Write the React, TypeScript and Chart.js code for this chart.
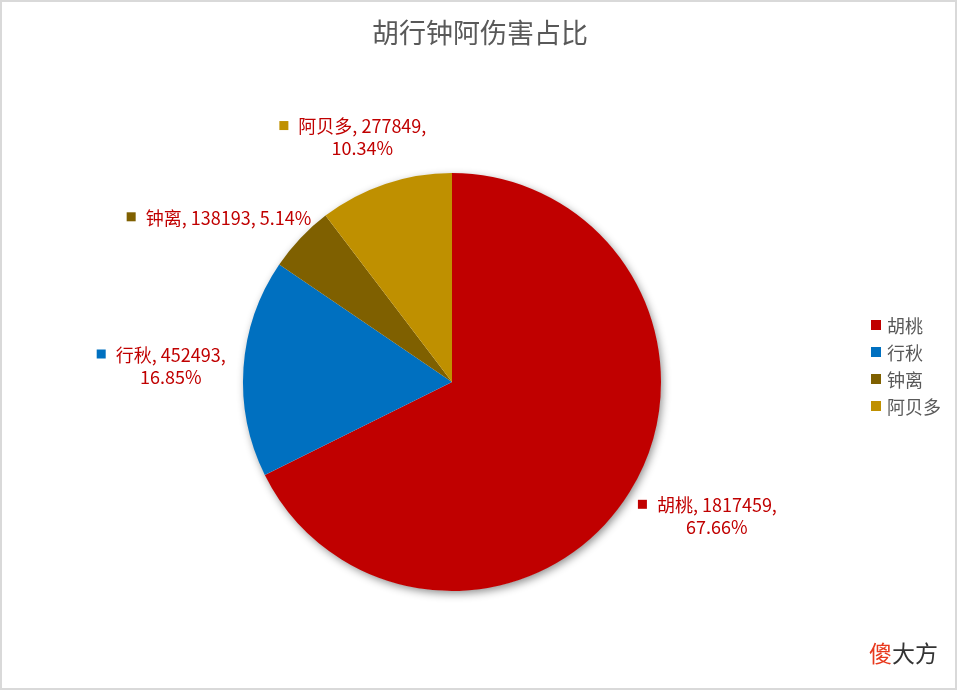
import React, { useEffect, useRef } from "react";
import { Chart, registerables } from "chart.js";

Chart.register(...registerables);

// ---- data ----
const categories = ["胡桃", "行秋", "钟离", "阿贝多"];
const damage = [1817459, 452493, 138193, 277849];
const sliceColors = ["#C00000", "#0070C0", "#7F6000", "#BF9000"];
const wrapAfterValue = [true, true, false, true];
const titleText = "胡行钟阿伤害占比";
const watermarkRed = "傻";
const watermarkDark = "大方";

// ---- style ----
const FONT = '"Noto Sans CJK SC", "Noto Sans", sans-serif';
const CANVAS_W = 953;
const CANVAS_H = 686;
const LABEL_GAPS = [22, 18, 20, 28];
const LABEL_FONT = 18;
const LINE_H = 22;
const MARK = 9;
const MARK_GAP = 10;
const LABEL_COLOR = "#C00000";
const GREY_TEXT = "#595959";

const total = damage.reduce((a, b) => a + b, 0);

const shadowPlugin = {
  id: "pieShadow",
  beforeDatasetsDraw(chart: any) {
    const arc = chart.getDatasetMeta(0).data[0];
    if (!arc) return;
    const { x, y, outerRadius } = arc.getProps(["x", "y", "outerRadius"], true);
    const ctx = chart.ctx;
    ctx.save();
    ctx.shadowColor = "rgba(0,0,0,0.45)";
    ctx.shadowBlur = 8;
    ctx.shadowOffsetX = 2;
    ctx.shadowOffsetY = 3;
    ctx.fillStyle = "#ffffff";
    ctx.beginPath();
    ctx.arc(x, y, outerRadius - 0.5, 0, Math.PI * 2);
    ctx.fill();
    ctx.restore();
  },
};

const decorPlugin = {
  id: "decor",
  afterDraw(chart: any) {
    const ctx = chart.ctx;
    const meta = chart.getDatasetMeta(0);
    ctx.save();

    // title
    ctx.font = `27px ${FONT}`;
    ctx.fillStyle = GREY_TEXT;
    ctx.textAlign = "center";
    ctx.textBaseline = "middle";
    ctx.fillText(titleText, 478, 31);

    // data labels
    ctx.font = `${LABEL_FONT}px ${FONT}`;
    meta.data.forEach((arc: any, i: number) => {
      const { x, y, startAngle, endAngle, outerRadius } = arc.getProps(
        ["x", "y", "startAngle", "endAngle", "outerRadius"],
        true
      );
      const mid = (startAngle + endAngle) / 2;
      const c = Math.cos(mid);
      const s = Math.sin(mid);
      const gap = LABEL_GAPS[i];
      const ax = x + (outerRadius + gap) * c;
      const ay = y + (outerRadius + gap) * s;
      const pct = ((damage[i] / total) * 100).toFixed(2) + "%";
      const lines = wrapAfterValue[i]
        ? [`${categories[i]}, ${damage[i]},`, pct]
        : [`${categories[i]}, ${damage[i]}, ${pct}`];
      const tw = Math.max(...lines.map((l) => ctx.measureText(l).width));
      const w = MARK + MARK_GAP + tw;
      const h = lines.length * LINE_H;
      const cx = ax + (c * w) / 2;
      const cy = ay + (s * h) / 2;
      const left = cx - w / 2;
      const top = cy - h / 2;
      ctx.fillStyle = sliceColors[i];
      ctx.fillRect(left, top + LINE_H / 2 - MARK / 2, MARK, MARK);
      ctx.fillStyle = LABEL_COLOR;
      ctx.textAlign = "center";
      ctx.textBaseline = "middle";
      const tcx = left + MARK + MARK_GAP + tw / 2;
      lines.forEach((l, k) => ctx.fillText(l, tcx, top + LINE_H * (k + 0.5) + 1));
    });

    // legend
    ctx.font = `18px ${FONT}`;
    ctx.textAlign = "left";
    ctx.textBaseline = "middle";
    categories.forEach((name, i) => {
      const cy = 323 + i * 27;
      ctx.fillStyle = sliceColors[i];
      ctx.fillRect(869, cy - 5, 10, 10);
      ctx.fillStyle = GREY_TEXT;
      ctx.fillText(name, 885, cy + 1);
    });

    // watermark
    ctx.font = `23px ${FONT}`;
    ctx.fillStyle = "#E8391D";
    ctx.fillText(watermarkRed, 867, 651);
    const wRed = ctx.measureText(watermarkRed).width;
    ctx.fillStyle = "#333333";
    ctx.fillText(watermarkDark, 867 + wRed, 651);

    ctx.restore();
  },
};

export default function App() {
  const ref = useRef<HTMLCanvasElement | null>(null);
  useEffect(() => {
    if (!ref.current) return;
    const chart = new Chart(ref.current, {
      type: "pie",
      data: {
        labels: categories,
        datasets: [
          {
            data: damage,
            backgroundColor: sliceColors,
            borderWidth: 0,
            hoverOffset: 0,
          },
        ],
      },
      options: {
        animation: false,
        responsive: false,
        layout: { padding: { top: 171, bottom: 97, left: 241, right: 294 } },
        plugins: {
          legend: { display: false },
          tooltip: { enabled: false },
          title: { display: false },
        },
      },
      plugins: [shadowPlugin, decorPlugin],
    });
    return () => chart.destroy();
  }, []);
  return (
    <div
      style={{
        position: "fixed",
        left: 0,
        top: 0,
        width: 957,
        height: 690,
        boxSizing: "border-box",
        border: "2px solid #d9d9d9",
        background: "#fff",
      }}
    >
      <canvas
        ref={ref}
        width={CANVAS_W}
        height={CANVAS_H}
        style={{ display: "block", width: CANVAS_W, height: CANVAS_H }}
      />
    </div>
  );
}
